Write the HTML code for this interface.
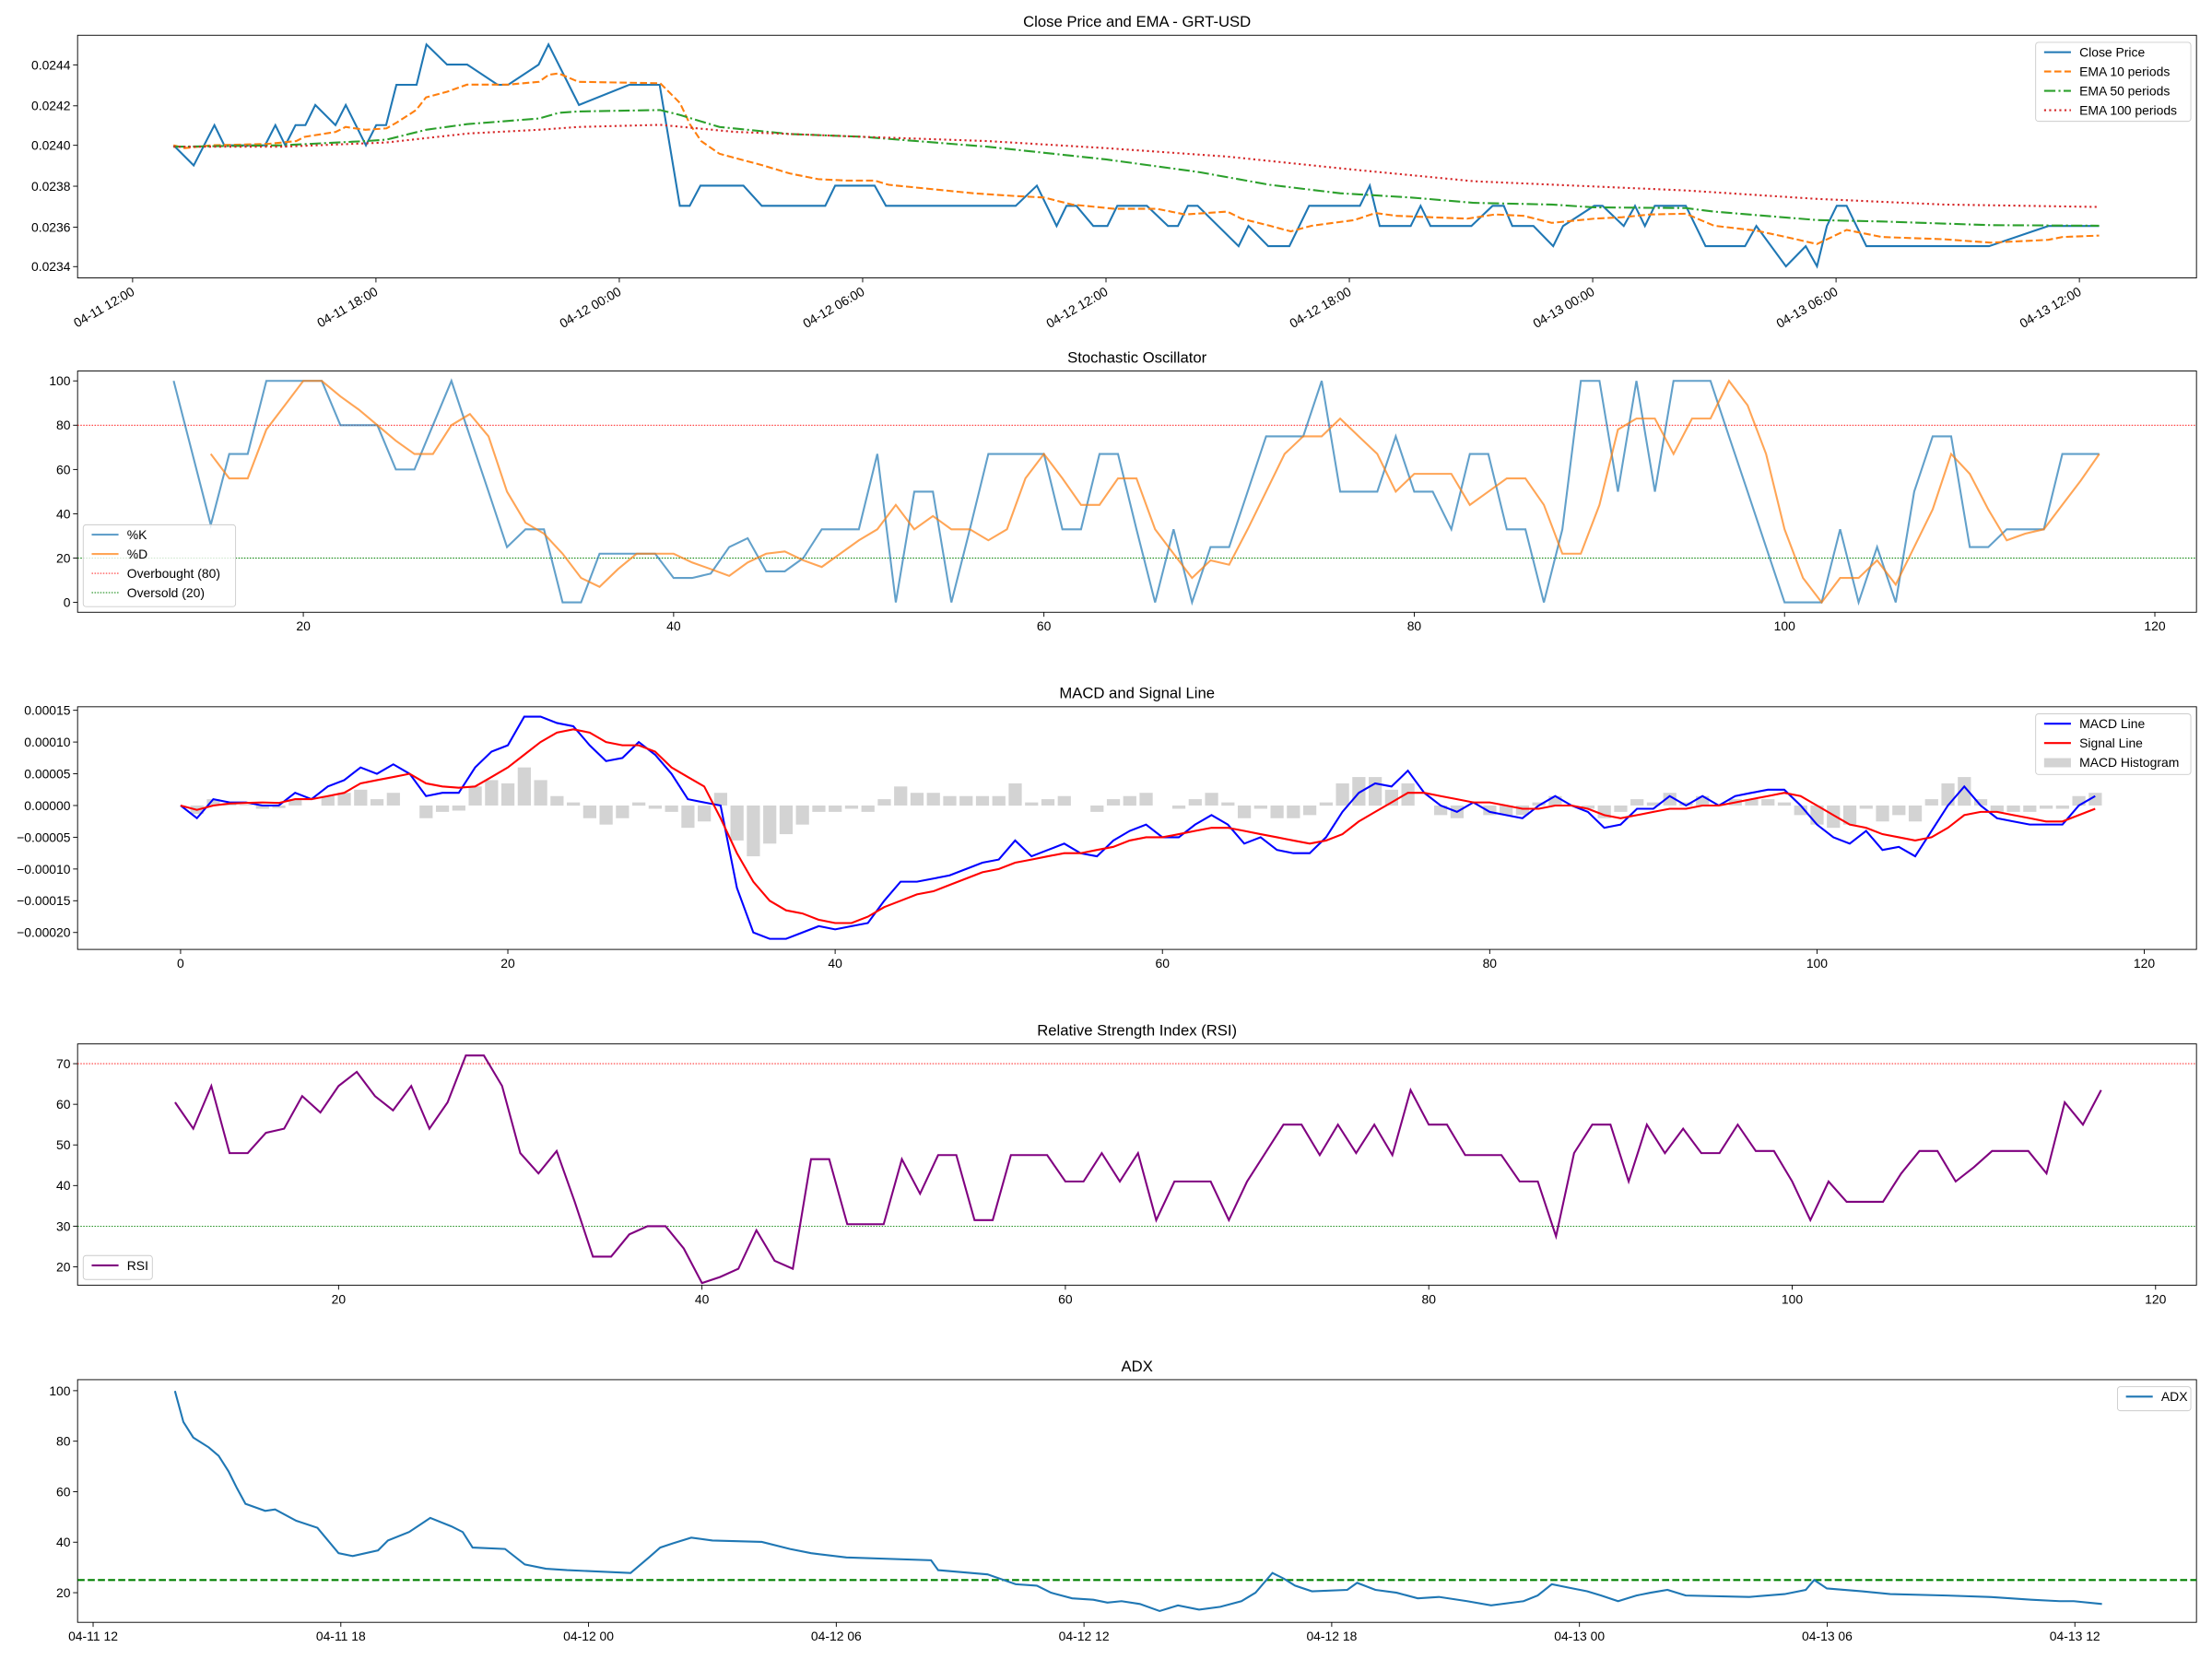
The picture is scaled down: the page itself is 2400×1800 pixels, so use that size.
<!DOCTYPE html>
<html><head><meta charset="utf-8"><style>
html,body{margin:0;padding:0;background:#fff;}
svg{display:block;font-family:"Liberation Sans","DejaVu Sans",sans-serif;}
</style></head><body>
<svg id="s" width="2400" height="1800" viewBox="0 0 1568 1176" xmlns="http://www.w3.org/2000/svg"></svg>
<script>
const S=document.getElementById('s');let H='';
const F=9.1;
function pl(pts,st){H+=`<polyline fill="none" points="${pts.map(p=>p[0].toFixed(1)+','+p[1].toFixed(1)).join(' ')}" ${st}/>`;}
function txt(x,y,t,a,sz,extra){H+=`<text x="${x}" y="${y}" font-size="${sz||F}" text-anchor="${a||'middle'}" ${extra||''}>${t}</text>`;}
function frame(x0,y0,x1,y1,title){H+=`<rect x="${x0}" y="${y0}" width="${x1-x0}" height="${y1-y0}" fill="none" stroke="#000" stroke-width="0.6"/>`;txt((x0+x1)/2,y0-6,title,'middle',10.9);}
function yt(x0,y,l){H+=`<line x1="${x0-3.2}" x2="${x0}" y1="${y}" y2="${y}" stroke="#000" stroke-width="0.6"/>`;txt(x0-5,y+3.2,l,'end');}
function xt(x,y1,l,rot){H+=`<line x1="${x}" x2="${x}" y1="${y1}" y2="${y1+3.2}" stroke="#000" stroke-width="0.6"/>`;
 if(rot){H+=`<text x="${x}" y="${y1+12}" font-size="${F}" text-anchor="end" transform="rotate(-30 ${x} ${y1+8})">${l}</text>`;}else txt(x,y1+13,l);}
function leg(x,y,w,h,items){H+=`<rect x="${x}" y="${y}" width="${w}" height="${h}" rx="2" fill="#fff" fill-opacity="0.8" stroke="#ccc" stroke-width="0.6"/>`;
 items.forEach((it,i)=>{const yy=y+7+i*13.7;if(it.rect)H+=`<rect x="${x+6}" y="${yy-3}" width="19" height="6.5" fill="${it.rect}"/>`;else H+=`<line x1="${x+6}" x2="${x+25}" y1="${yy}" y2="${yy}" ${it.st}/>`;txt(x+31,yy+3.2,it.t,'start');});}
const LW='stroke-width="1.36"';
// ---------- Panel 1
frame(55,25,1557,197,'Close Price and EMA - GRT-USD');
[['0.0244',46],['0.0242',75],['0.0240',103],['0.0238',132],['0.0236',161],['0.0234',189]].forEach(a=>yt(55,a[1],a[0]));
['04-11 12:00','04-11 18:00','04-12 00:00','04-12 06:00','04-12 12:00','04-12 18:00','04-13 00:00','04-13 06:00','04-13 12:00'].forEach((l,i)=>xt(94+i*172.5,197,l,true));
const py=p=>103-(p-240)*14.3;
const cz=[[370,240],[413,239],[457,241],[478,240],[565,240],[587,241],[608,240],[630,241],[651,241],[672,242],[715,241],[737,242],[780,240],[802,241],[823,241],[845,243],[888,243],[909,245],[953,244],[996,244],[1061,243],[1083,243],[1148,244],[1169,245],[1234,242],[1341,243],[1406,243],[1449,237],[1470,237],[1493,238]];
let close=cz.map(a=>[a[0]/3.007,py(a[1])]);
[[527,238],[540,237],[585,237],[592,238],[620,238],[628,237],[720,237],[735,238],[749,236],[756,237],[763,237],[775,236],[785,236],[792,237],[813,237],[828,236],[835,236],[842,237],[849,237],[878,235],[885,236],[899,235],[914,235],[928,237],[964,237],[971,238],[978,236],[1000,236],[1007,237],[1014,236],[1043,236],[1058,237],[1066,237],[1072,236],[1087,236],[1101,235],[1108,236],[1130,237],[1136,237],[1151,236],[1159,237],[1166,236],[1173,237],[1195,237],[1209,235],[1237,235],[1245,236],[1266,234],[1280,235],[1288,234],[1295,236],[1302,237],[1309,237],[1323,235],[1410,235],[1452,236],[1488,236]].forEach(a=>close.push([a[0],py(a[1])]));
pl(close,`stroke="#1f77b4" ${LW}`);
pl([[123,103],[131,105],[150,103],[190,102],[210,100],[216,97],[238,93.5],[245,90],[259,92],[274,91],[281,87],[295,78],[302,69],[317,65],[331,60],[353,60],[360,60],[382,58],[389,53],[396,52],[410,58],[468,59],[482,73],[489,88],[497,100],[510,109],[521,112],[540,117],[560,123],[580,127],[600,128],[620,128],[630,131],[660,134],[690,137],[720,139],[740,140],[760,145],[790,148],[820,148],[840,152],[870,150],[880,155],[900,160],[915,164],[930,160],[960,156],[975,151],[990,153],[1040,155],[1060,152],[1080,153],[1100,158],[1130,155],[1150,154],[1170,152],[1195,151.5],[1215,160],[1245,163.5],[1266,168],[1288,173],[1309,163],[1334,168],[1378,169.6],[1411,172],[1452,170],[1462,168],[1488,167]],`stroke="#ff7f0e" ${LW} stroke-dasharray="5,2.2"`);
pl([[123,104],[200,103],[259,100],[274,99],[302,92],[331,88],[382,84],[396,80],[410,79],[468,78],[482,81.5],[510,90],[560,95],[612,97],[700,104],[784,113],[850,122],[900,131],[950,137],[1000,140],[1045,143.8],[1100,145],[1130,147],[1195,147.5],[1215,150],[1288,156],[1334,157],[1411,159.6],[1488,160]],`stroke="#2ca02c" ${LW} stroke-dasharray="8,2.2,1.4,2.2"`);
pl([[123,104],[200,104],[274,101],[332,94.6],[382,92],[410,90],[468,88.5],[521,93.5],[612,97],[700,100],[784,105],[870,111],[957,120],[1045,128.5],[1195,135],[1288,141],[1378,145],[1488,146.7]],`stroke="#d62728" ${LW} stroke-dasharray="1.4,2.2"`);
leg(1443,30,110,56,[{t:'Close Price',st:`stroke="#1f77b4" ${LW}`},{t:'EMA 10 periods',st:`stroke="#ff7f0e" ${LW} stroke-dasharray="5,2.2"`},{t:'EMA 50 periods',st:`stroke="#2ca02c" ${LW} stroke-dasharray="8,2.2,1.4,2.2"`},{t:'EMA 100 periods',st:`stroke="#d62728" ${LW} stroke-dasharray="1.4,2.2"`}]);
// ---------- Panel 2
frame(55,263,1557,434,'Stochastic Oscillator');
[100,80,60,40,20,0].forEach(v=>yt(55,427-v*1.57,v));
[20,40,60,80,100,120].forEach(v=>xt(215+(v-20)*13.125,434,v));
const sx=i=>215+(i-20)*13.125, sy=v=>427-v*1.57;
H+=`<line x1="55" x2="1557" y1="${sy(80)}" y2="${sy(80)}" stroke="red" stroke-width="0.6" stroke-dasharray="1,1"/>`;
H+=`<line x1="55" x2="1557" y1="${sy(20)}" y2="${sy(20)}" stroke="green" stroke-width="0.6" stroke-dasharray="1,1"/>`;
const K=[100,null,35,67,67,100,100,100,100,80,80,80,60,60,80,100,75,50,25,33,33,0,0,22,22,22,22,11,11,13,25,29,14,14,20,33,33,33,67,0,50,50,0,33,67,67,67,67,33,33,67,67,33,0,33,0,25,25,50,75,75,75,100,50,50,50,75,50,50,33,67,67,33,33,0,33,100,100,50,100,50,100,100,100,75,50,25,0,0,0,33,0,25,0,50,75,75,25,25,33,33,33,67,67,67];
let kp=[];K.forEach((v,j)=>{if(v!==null)kp.push([sx(13+j),sy(v)]);});
const D=[67,56,56,78,89,100,100,93,87,80,73,67,67,80,85,75,50,36,31,22,11,7,15,22,22,22,18,15,12,18,22,23,19,16,22,28,33,44,33,39,33,33,28,33,56,67,56,44,44,56,56,33,22,11,19,17,33,50,67,75,75,83,75,67,50,58,58,58,44,50,56,56,44,22,22,44,78,83,83,67,83,83,100,89,67,33,11,0,11,11,19,8,25,42,67,58,42,28,31,33,44,55,67];
pl(kp,`stroke="#1f77b4" stroke-opacity="0.7" ${LW}`);
pl(D.map((v,j)=>[sx(15+j),sy(v)]),`stroke="#ff7f0e" stroke-opacity="0.7" ${LW}`);
leg(59,372,108,58,[{t:'%K',st:`stroke="#1f77b4" stroke-opacity="0.7" ${LW}`},{t:'%D',st:`stroke="#ff7f0e" stroke-opacity="0.7" ${LW}`},{t:'Overbought (80)',st:'stroke="red" stroke-width="0.6" stroke-dasharray="1,1"'},{t:'Oversold (20)',st:'stroke="green" stroke-width="0.6" stroke-dasharray="1,1"'}]);
// ---------- Panel 3
frame(55,501,1557,673,'MACD and Signal Line');
[['0.00015',15],['0.00010',10],['0.00005',5],['0.00000',0],['\u22120.00005',-5],['\u22120.00010',-10],['\u22120.00015',-15],['\u22120.00020',-20]].forEach(a=>yt(55,571-a[1]*4.5,a[0]));
[0,20,40,60,80,100,120].forEach(v=>xt(128+v*11.6,673,v));
const mx=i=>128+i*11.6, my=v=>571-v*4.5;
const M=[0,-2,1,0.5,0.5,0,0,2,1,3,4,6,5,6.5,5,1.5,2,2,6,8.5,9.5,14,14,13,12.5,9.5,7,7.5,10,8,5,1,0.5,0,-13,-20,-21,-21,-20,-19,-19.5,-19,-18.5,-15,-12,-12,-11.5,-11,-10,-9,-8.5,-5.5,-8,-7,-6,-7.5,-8,-5.5,-4,-3,-5,-5,-3,-1.5,-3,-6,-5,-7,-7.5,-7.5,-5,-1,2,3.5,3,5.5,2,0,-1,0.5,-1,-1.5,-2,0,1.5,0,-1,-3.5,-3,-0.5,-0.5,1.5,0,1.5,0,1.5,2,2.5,2.5,0,-3,-5,-6,-4,-7,-6.5,-8,-4,0,3,0,-2,-2.5,-3,-3,-3,0,1.5];
const SG=[0,-0.7,0,0.3,0.4,0.5,0.4,1,1,1.5,2,3.5,4,4.5,5,3.5,3,2.8,3,4.5,6,8,10,11.5,12,11.5,10,9.5,9.5,8.5,6,4.5,3,-2,-7.5,-12,-15,-16.5,-17,-18,-18.5,-18.5,-17.5,-16,-15,-14,-13.5,-12.5,-11.5,-10.5,-10,-9,-8.5,-8,-7.5,-7.5,-7,-6.5,-5.5,-5,-5,-4.5,-4,-3.5,-3.5,-4,-4.5,-5,-5.5,-6,-5.5,-4.5,-2.5,-1,0.5,2,2,1.5,1,0.5,0.5,0,-0.5,-0.5,0,0,-0.5,-1.5,-2,-1.5,-1,-0.5,-0.5,0,0,0.5,1,1.5,2,1.5,0,-1.5,-3,-3.5,-4.5,-5,-5.5,-5,-3.5,-1.5,-1,-1,-1.5,-2,-2.5,-2.5,-1.5,-0.5];
M.forEach((v,i)=>{const h=v-SG[i];const y0=my(0),y1=my(h);H+=`<rect x="${(mx(i)-4.6).toFixed(1)}" y="${Math.min(y0,y1).toFixed(1)}" width="9.3" height="${Math.abs(y1-y0).toFixed(1)}" fill="#d3d3d3"/>`;});
pl(M.map((v,i)=>[mx(i),my(v)]),`stroke="blue" ${LW}`);
pl(SG.map((v,i)=>[mx(i),my(v)]),`stroke="red" ${LW}`);
leg(1443,506,110,43,[{t:'MACD Line',st:`stroke="blue" ${LW}`},{t:'Signal Line',st:`stroke="red" ${LW}`},{t:'MACD Histogram',rect:'#d3d3d3'}]);
// ---------- Panel 4
frame(55,740,1557,911,'Relative Strength Index (RSI)');
[70,60,50,40,30,20].forEach(v=>yt(55,754-(v-70)*2.88,v));
[20,40,60,80,100,120].forEach(v=>xt(240+(v-20)*12.88,911,v));
const rx=i=>240+(i-20)*12.88, ry=v=>754-(v-70)*2.88;
H+=`<line x1="55" x2="1557" y1="${ry(70)}" y2="${ry(70)}" stroke="red" stroke-width="0.6" stroke-dasharray="1,1"/>`;
H+=`<line x1="55" x2="1557" y1="${ry(30)}" y2="${ry(30)}" stroke="green" stroke-width="0.6" stroke-dasharray="1,1"/>`;
const R=[60.5,54,64.5,48,48,53,54,62,58,64.5,68,62,58.5,64.5,54,60.5,72,72,64.5,48,43,48.5,36,22.5,22.5,28,30,30,24.5,16,17.5,19.5,29,21.5,19.5,46.5,46.5,30.5,30.5,30.5,46.5,38,47.5,47.5,31.5,31.5,47.5,47.5,47.5,41,41,48,41,48,31.5,41,41,41,31.5,41,48,55,55,47.5,55,48,55,47.5,63.5,55,55,47.5,47.5,47.5,41,41,27.5,48,55,55,41,55,48,54,48,48,55,48.5,48.5,41,31.5,41,36,36,36,43,48.5,48.5,41,44.5,48.5,48.5,48.5,43,60.5,55,63.5];
pl(R.map((v,j)=>[rx(11+j),ry(v)]),`stroke="purple" ${LW}`);
leg(59,890,49,17,[{t:'RSI',st:`stroke="purple" ${LW}`}]);
// ---------- Panel 5
frame(55,978,1557,1150,'ADX');
[100,80,60,40,20].forEach(v=>yt(55,1129-(v-20)*1.79,v));
['04-11 12','04-11 18','04-12 00','04-12 06','04-12 12','04-12 18','04-13 00','04-13 06','04-13 12'].forEach((l,i)=>xt(66+i*175.6,1150,l));
H+=`<line x1="55" x2="1557" y1="1120" y2="1120" stroke="green" stroke-width="1.36" stroke-dasharray="5,2.2"/>`;
pl([[124,986],[130,1008],[137,1019],[148,1026],[155,1032],[162,1043],[168,1055],[174,1066],[188,1071],[195,1070],[210,1078],[225,1083],[240,1101],[250,1103],[268,1099],[275,1092],[290,1086],[305,1076],[320,1082],[328,1086],[335,1097],[358,1098],[372,1109],[387,1112],[402,1113],[447,1115],[460,1104],[468,1097],[477,1094],[490,1090],[505,1092],[540,1093],[560,1098],[575,1101],[600,1104],[660,1106],[665,1113],[700,1116],[720,1123],[735,1124],[745,1129],[760,1133],[775,1134],[785,1136],[795,1135],[808,1137],[822,1142],[835,1138],[850,1141],[865,1139],[880,1135],[890,1129],[902,1115],[910,1119],[918,1124],[930,1128],[955,1127],[962,1122],[975,1127],[990,1129],[1005,1133],[1020,1132],[1040,1135],[1057,1138],[1080,1135],[1090,1131],[1100,1123],[1115,1126],[1125,1128],[1135,1131],[1147,1135],[1160,1131],[1170,1129],[1182,1127],[1195,1131],[1240,1132],[1265,1130],[1280,1127],[1286,1120],[1295,1126],[1320,1128],[1340,1130],[1380,1131],[1410,1132],[1440,1134],[1460,1135],[1470,1135],[1490,1137]],`stroke="#1f77b4" ${LW}`);
leg(1501,983,52,17,[{t:'ADX',st:`stroke="#1f77b4" ${LW}`}]);
S.innerHTML=H;
</script>
</body></html>
